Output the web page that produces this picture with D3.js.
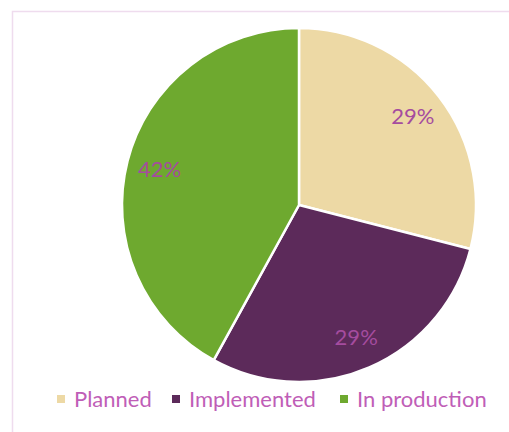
<!DOCTYPE html>
<html><head><meta charset="utf-8">
<script src="https://cdn.jsdelivr.net/npm/d3@7"></script>
<style>body{margin:0;background:#fff}svg{display:block}</style>
</head><body>
<svg id="c" width="509" height="432"></svg>
<script>
const categories = ["Planned", "Implemented", "In production"];
const values = [29, 29, 42];
const colors = ["#EDD9A5", "#5C2A5A", "#6EA92F"];

const svg = d3.select("#c");
svg.append("path").attr("d","M12.5,432 V11.5 H509").attr("fill","none").attr("stroke","#EFDCEE").attr("stroke-width",1.5);

const cx = 299, cy = 205, r = 177;
const g = svg.append("g").attr("transform",`translate(${cx},${cy})`);
const pie = d3.pie().sort(null).value(d=>d)(values);
const arc = d3.arc().innerRadius(0).outerRadius(r);
const labelArc = d3.arc().innerRadius(144).outerRadius(144);
const color = d3.scaleOrdinal().domain(categories).range(colors);

g.selectAll("path.s").data(pie).enter().append("path")
  .attr("d",arc).attr("fill",(d,i)=>color(categories[i]))
  .attr("stroke","#fff").attr("stroke-width",2.5).attr("stroke-linejoin","round");

const total = d3.sum(values);
g.selectAll("text.l").data(pie).enter().append("text")
  .attr("transform",d=>`translate(${labelArc.centroid(d)})`)
  .attr("text-anchor","middle").attr("dy","0.35em")
  .attr("font-family","Lato, sans-serif").attr("font-size",22)
  .attr("fill","#A54C9F")
  .text(d=>Math.round(d.data/total*100)+"%");

const legendX = [57, 172, 340];
const lg = svg.append("g");
categories.forEach((c,i)=>{
  lg.append("rect").attr("x",legendX[i]).attr("y",395).attr("width",8).attr("height",8).attr("fill",color(c));
  lg.append("text").attr("x",legendX[i]+17).attr("y",399).attr("dy","0.35em")
    .attr("font-family","Lato, sans-serif").attr("font-size",22)
    .attr("fill","#BF5EB7").text(c);
});
</script>
</body></html>
